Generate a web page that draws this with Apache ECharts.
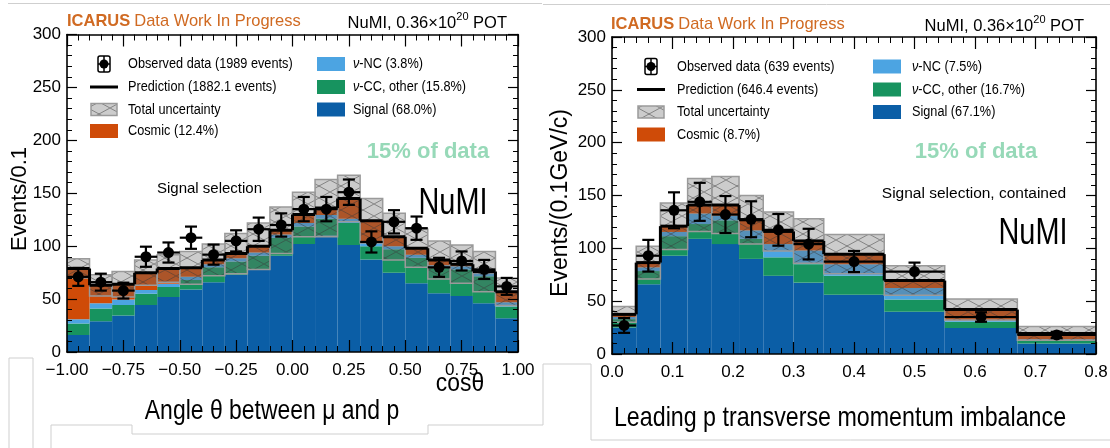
<!DOCTYPE html>
<html><head><meta charset="utf-8">
<script src="https://cdn.jsdelivr.net/npm/echarts@6/dist/echarts.min.js"></script>
<style>html,body{margin:0;padding:0;background:#fff}#c{width:1110px;height:448px}</style>
</head><body><div id="c"></div>
<script>
// ---------- Left panel: angle between mu and p (cos theta) ----------
const cosEdges   = [-1.0,-0.9,-0.8,-0.7,-0.6,-0.5,-0.4,-0.3,-0.2,-0.1,0.0,0.1,0.2,0.3,0.4,0.5,0.6,0.7,0.8,0.9,1.0];
const cosSignal  = [16,29,34.5,44.5,52,59,66,73,78,91,102,110,101,87.5,75,65,55.5,53,46,32];
const cosCCOther = [11,12,10,10.5,9.5,9,14,12.5,13,17,16.5,16,21,12.5,22,24,24,25,25.5,11];
const cosNC      = [4,5,5,3.5,3,3,3,3,3,3,3.5,3.5,4,3,3,3,2.5,3,3,4];
const cosCosmic  = [48,17,14.5,16.5,14.5,8.5,4,4.5,6,4,8,6.5,19,21,9,6,5,2,1.5,10];
const cosUnc     = [9,10,12,12,13,15.5,15,19,22,22,21,27,22,21,22,18,18,18,19,13];
const cosData    = [71,66,58,90,94,108,92,105,116,120,135,135,151,104,123,117,80,86,78,62];
const cosDataErr = [8.5,8,7.5,9.5,9.5,10.5,9.5,10,11,11,11.5,11.5,12,10,11,11,9,9,9,8];
const cosXTicks  = [-1.0,-0.75,-0.5,-0.25,0,0.25,0.5,0.75,1.0];
const cosLegend1 = ['Observed data (1989 events)','Prediction (1882.1 events)','Total uncertainty','Cosmic (12.4%)'];
const cosLegend2 = ['{i|ν}-NC (3.8%)','{i|ν}-CC, other (15.8%)','Signal (68.0%)'];

// ---------- Right panel: leading p transverse momentum imbalance ----------
const ptEdges   = [0,0.04,0.08,0.125,0.165,0.21,0.25,0.30,0.35,0.45,0.55,0.67,0.80];
const ptSignal  = [25,66,93,109,104,90,74,67.5,56,40,24.5,10];
const ptCCOther = [8,12.5,18.5,14,22.5,19,17.5,17.5,18,11.5,6,2.5];
const ptNC      = [2,3.5,4,10,4.5,8,12.5,13,11,11,2,1.5];
const ptCosmic  = [2.5,4.5,5.5,8,10,10,12,9,9.5,7,9.5,5.5];
const ptUnc     = [7.5,15.5,22,25,27,23,18.5,21,18.5,14,10,6.5];
const ptData    = [27,93,136,144,132,127.5,117.5,104,87.5,78,35,18];
const ptDataErr = [7,15,17,18,17.5,17,15,14.5,10,8.5,4.5,3];
const ptLegend1 = ['Observed data (639 events)','Prediction (646.4 events)','Total uncertainty','Cosmic (8.7%)'];
const ptLegend2 = ['{i|ν}-NC (7.5%)','{i|ν}-CC, other (16.7%)','Signal (67.1%)'];

const yTicks = [0,50,100,150,200,250,300];

const C_SIGNAL = '#0b5ea6', C_CC = '#17935f', C_NC = '#4ca4e2', C_COSMIC = '#cf4b08';
const FONT = '"Liberation Sans", Arial, Helvetica, sans-serif';

function makeHatch(){
  const c = document.createElement('canvas'); c.width = 22; c.height = 12;
  const g = c.getContext('2d');
  g.fillStyle = 'rgba(105,105,105,0.34)'; g.fillRect(0,0,22,12);
  g.strokeStyle = 'rgba(60,60,60,0.5)'; g.lineWidth = 1;
  g.beginPath(); g.moveTo(0,0); g.lineTo(22,12); g.moveTo(22,0); g.lineTo(0,12); g.stroke();
  return c;
}
const hatch = makeHatch();
const hatchFill = {image: hatch, repeat: 'repeat'};

function rectRender(fill, stroke, lw){
  return function(params, api){
    const p0 = api.coord([api.value(0), api.value(3)]);
    const p1 = api.coord([api.value(1), api.value(2)]);
    return {type:'rect', shape:{x:p0[0], y:p0[1], width:p1[0]-p0[0], height:p1[1]-p0[1]},
      style:{fill: fill, stroke: stroke || null, lineWidth: lw || 0}};
  };
}

function panelSeries(edges, sig, cc, nc, cos, unc, data, derr, ax){
  const n = sig.length;
  const comps = [[sig, C_SIGNAL],[cc, C_CC],[nc, C_NC],[cos, C_COSMIC]];
  const base = new Array(n).fill(0);
  const out = [];
  comps.forEach(([arr, col]) => {
    const items = [];
    for (let i = 0; i < n; i++){ items.push([edges[i], edges[i+1], base[i], base[i] + arr[i]]); base[i] += arr[i]; }
    out.push({type:'custom', xAxisIndex:ax, yAxisIndex:ax, z:2, clip:true, silent:true,
      renderItem: rectRender(col), data: items});
  });
  const pred = base.slice();
  out.push({type:'custom', xAxisIndex:ax, yAxisIndex:ax, z:3, clip:true, silent:true,
    renderItem: rectRender(hatchFill, '#9a9a9a', 1.5),
    data: pred.map((p,i) => [edges[i], edges[i+1], p - unc[i], p + unc[i]])});
  out.push({type:'custom', xAxisIndex:ax, yAxisIndex:ax, z:4, clip:true, silent:true,
    renderItem: function(params, api){
      const a = api.coord([api.value(0), api.value(2)]);
      const b = api.coord([api.value(1), api.value(2)]);
      const c = api.coord([api.value(1), api.value(3)]);
      return {type:'group', children:[
        {type:'line', shape:{x1:a[0], y1:a[1], x2:b[0], y2:b[1]}, style:{stroke:'#000', lineWidth:3}},
        {type:'line', shape:{x1:b[0], y1:b[1], x2:c[0], y2:c[1]}, style:{stroke:'#000', lineWidth:3}}
      ]};
    },
    data: pred.map((p,i) => [edges[i], edges[i+1], p, i < n-1 ? pred[i+1] : p])});
  out.push({type:'custom', xAxisIndex:ax, yAxisIndex:ax, z:5, clip:false, silent:true,
    renderItem: function(params, api){
      const xc = (api.value(0) + api.value(1)) / 2;
      const y = api.value(2), e = api.value(3);
      const pc = api.coord([xc, y]);
      const pl = api.coord([api.value(0), y]);
      const pr = api.coord([api.value(1), y]);
      const pt = api.coord([xc, y + e]);
      const pb = api.coord([xc, y - e]);
      const st = {stroke:'#000', lineWidth:2.2};
      return {type:'group', children:[
        {type:'line', shape:{x1:pl[0], y1:pl[1], x2:pr[0], y2:pr[1]}, style:st},
        {type:'line', shape:{x1:pt[0], y1:pt[1], x2:pb[0], y2:pb[1]}, style:st},
        {type:'line', shape:{x1:pt[0]-6, y1:pt[1], x2:pt[0]+6, y2:pt[1]}, style:st},
        {type:'line', shape:{x1:pb[0]-6, y1:pb[1], x2:pb[0]+6, y2:pb[1]}, style:st},
        {type:'circle', shape:{cx:pc[0], cy:pc[1], r:5.5}, style:{fill:'#000'}}
      ]};
    },
    data: data.map((d,i) => [edges[i], edges[i+1], d, derr[i]])});
  return out;
}

function xAxes(grid, min, max, interval, fmt){
  const common = {type:'value', gridIndex:grid, min:min, max:max, interval:interval, z:10,
    axisLine:{show:true, onZero:false, lineStyle:{color:'#000', width:1.6}},
    axisTick:{show:true, inside:true, length:12, lineStyle:{color:'#000', width:1.2}},
    minorTick:{show:true, splitNumber:5, length:6, lineStyle:{color:'#000', width:1}},
    splitLine:{show:false}, minorSplitLine:{show:false}};
  return [
    Object.assign({}, common, {position:'bottom',
      axisLabel:{show:true, fontSize:17, fontFamily:FONT, color:'#000', margin:10, formatter:fmt}}),
    Object.assign({}, common, {position:'top', axisLabel:{show:false}})
  ];
}
function yAxes(grid){
  const common = {type:'value', gridIndex:grid, min:yTicks[0], max:yTicks[yTicks.length-1], interval:yTicks[1]-yTicks[0], z:10,
    axisLine:{show:true, onZero:false, lineStyle:{color:'#000', width:1.6}},
    axisTick:{show:true, inside:true, length:10, lineStyle:{color:'#000', width:1.2}},
    minorTick:{show:true, splitNumber:5, length:5, lineStyle:{color:'#000', width:1}},
    splitLine:{show:false}, minorSplitLine:{show:false}};
  return [
    Object.assign({}, common, {position:'left',
      axisLabel:{show:true, fontSize:17, fontFamily:FONT, color:'#000', margin:6}}),
    Object.assign({}, common, {position:'right', axisLabel:{show:false}})
  ];
}

function txt(x, y, text, opt){
  return Object.assign({type:'text', x:x, y:y, silent:true, z:20,
    style:Object.assign({text:text, fill:'#000', fontFamily:FONT, fontSize:15,
      align:'left', verticalAlign:'middle', textAlign:'left', textVerticalAlign:'middle'}, opt.style || {})},
    opt.extra || {});
}

function legend(mx1, tx1, mx2, tx2, rows, labels1, labels2){
  const els = [];
  const mw = 28, mc = mx1 + mw/2;
  els.push({type:'rect', silent:true, z:20, shape:{x:mc-6, y:rows[0]-8, width:12, height:16, r:2}, style:{fill:'none', stroke:'#000', lineWidth:1.5}});
  els.push({type:'line', silent:true, z:20, shape:{x1:mc, y1:rows[0]-8, x2:mc, y2:rows[0]+8}, style:{stroke:'#000', lineWidth:1.5}});
  els.push({type:'line', silent:true, z:20, shape:{x1:mc-6, y1:rows[0], x2:mc+6, y2:rows[0]}, style:{stroke:'#000', lineWidth:1.5}});
  els.push({type:'circle', silent:true, z:20, shape:{cx:mc, cy:rows[0], r:4.5}, style:{fill:'#000'}});
  els.push({type:'line', silent:true, z:20, shape:{x1:mx1, y1:rows[1], x2:mx1+mw, y2:rows[1]}, style:{stroke:'#000', lineWidth:3}});
  els.push({type:'rect', silent:true, z:20, shape:{x:mx1+1, y:rows[2]-6, width:mw-2, height:12}, style:{fill:hatchFill, stroke:'#9a9a9a', lineWidth:1.5}});
  els.push({type:'rect', silent:true, z:20, shape:{x:mx1, y:rows[3]-7, width:mw, height:14}, style:{fill:C_COSMIC}});
  [C_NC, C_CC, C_SIGNAL].forEach((c,i) => {
    els.push({type:'rect', silent:true, z:20, shape:{x:mx2, y:rows[i]-7, width:mw, height:14}, style:{fill:c}});
  });
  const rich = {i:{fontStyle:'italic', fontSize:15.5, fontFamily:FONT}};
  labels1.forEach((t,i) => els.push(txt(tx1, rows[i], t, {style:{fontSize:15.5}, extra:{scaleX:0.82}})));
  labels2.forEach((t,i) => els.push(txt(tx2, rows[i], t, {style:{fontSize:15.5, rich:rich}, extra:{scaleX:0.82}})));
  return els;
}

function header(xl, xr, y){
  return [
    txt(xl, y, '{b|ICARUS} {n|Data Work In Progress}', {style:{rich:{
      b:{fontWeight:'bold', fontSize:17, fill:'#d06a22', fontFamily:FONT},
      n:{fontSize:17, fill:'#d06a22', fontFamily:FONT}}}, extra:{scaleX:0.97}}),
    txt(xr, y, '{a|NuMI, 0.36×10}{s|20}{a| POT}', {style:{align:'right', textAlign:'right', rich:{
      a:{fontSize:16.5, fontFamily:FONT, fill:'#000', lineHeight:20, verticalAlign:'bottom'},
      s:{fontSize:11, fontFamily:FONT, fill:'#000', lineHeight:20, verticalAlign:'top'}}}})
  ];
}

function lineEl(points){
  return {type:'polyline', silent:true, z:1, shape:{points:points}, style:{stroke:'#cfcfcf', lineWidth:1, fill:'none'}};
}

const centered = {align:'center', textAlign:'center'};
const graphics = [].concat(
  header(67, 507, 21.5),
  header(611, 1084, 24.5),
  legend(90, 128, 317, 353, [64, 87, 109.5, 131], cosLegend1, cosLegend2),
  legend(637, 677, 873, 912, [66.5, 89.5, 112, 134.5], ptLegend1, ptLegend2),
  [
    txt(20, 199, 'Events/0.1', {style:Object.assign({fontSize:22}, centered), extra:{rotation:Math.PI/2}}),
    txt(561, 203, 'Events/(0.1GeV/c)', {style:Object.assign({fontSize:23}, centered), extra:{rotation:Math.PI/2}}),
    txt(428, 152, '15% of data', {style:Object.assign({fontSize:22, fontWeight:'bold', fill:'#97d9b8'}, centered)}),
    txt(976, 152, '15% of data', {style:Object.assign({fontSize:22, fontWeight:'bold', fill:'#97d9b8'}, centered)}),
    txt(209.5, 189, 'Signal selection', {style:Object.assign({fontSize:15}, centered)}),
    txt(974, 194, 'Signal selection, contained', {style:Object.assign({fontSize:15.5}, centered)}),
    txt(453, 204, 'NuMI', {style:Object.assign({fontSize:37}, centered), extra:{scaleX:0.78}}),
    txt(1033, 234, 'NuMI', {style:Object.assign({fontSize:37}, centered), extra:{scaleX:0.78}}),
    txt(460, 384, 'cosθ', {style:Object.assign({fontSize:26}, centered), extra:{scaleX:0.88}}),
    txt(272, 412, 'Angle θ between μ and p', {style:Object.assign({fontSize:27}, centered), extra:{scaleX:0.85}}),
    txt(840, 418, 'Leading p transverse momentum imbalance', {style:Object.assign({fontSize:28}, centered), extra:{scaleX:0.83}}),
    lineEl([[8,3.5],[542,3.5]]),
    lineEl([[543,4.5],[1110,4.5]]),
    lineEl([[9,448],[9,358],[33,358],[33,448]]),
    lineEl([[51,448],[51,425],[132,425],[132,434],[428,434],[428,425],[543,425],[543,364],[591,364],[591,440],[1110,440]])
  ]
);

const chart = echarts.init(document.getElementById('c'), null, {renderer:'canvas'});
chart.setOption({
  animation:false,
  backgroundColor:'#fff',
  grid:[
    {left:67, top:34.5, width:451, height:317.5, containLabel:false, outerBoundsMode:'none'},
    {left:612, top:37, width:484, height:317, containLabel:false, outerBoundsMode:'none'}
  ],
  xAxis:[].concat(
    xAxes(0, cosXTicks[0], cosXTicks[cosXTicks.length-1], cosXTicks[1]-cosXTicks[0],
      v => (v < 0 ? '\u2212' : '') + Math.abs(v).toFixed(2)),
    xAxes(1, ptEdges[0], ptEdges[ptEdges.length-1], 0.1, v => v.toFixed(1))
  ),
  yAxis:[].concat(yAxes(0), yAxes(1)),
  series:[].concat(
    panelSeries(cosEdges, cosSignal, cosCCOther, cosNC, cosCosmic, cosUnc, cosData, cosDataErr, 0),
    panelSeries(ptEdges, ptSignal, ptCCOther, ptNC, ptCosmic, ptUnc, ptData, ptDataErr, 2)
  ),
  graphic: graphics
});
</script>
</body></html>
